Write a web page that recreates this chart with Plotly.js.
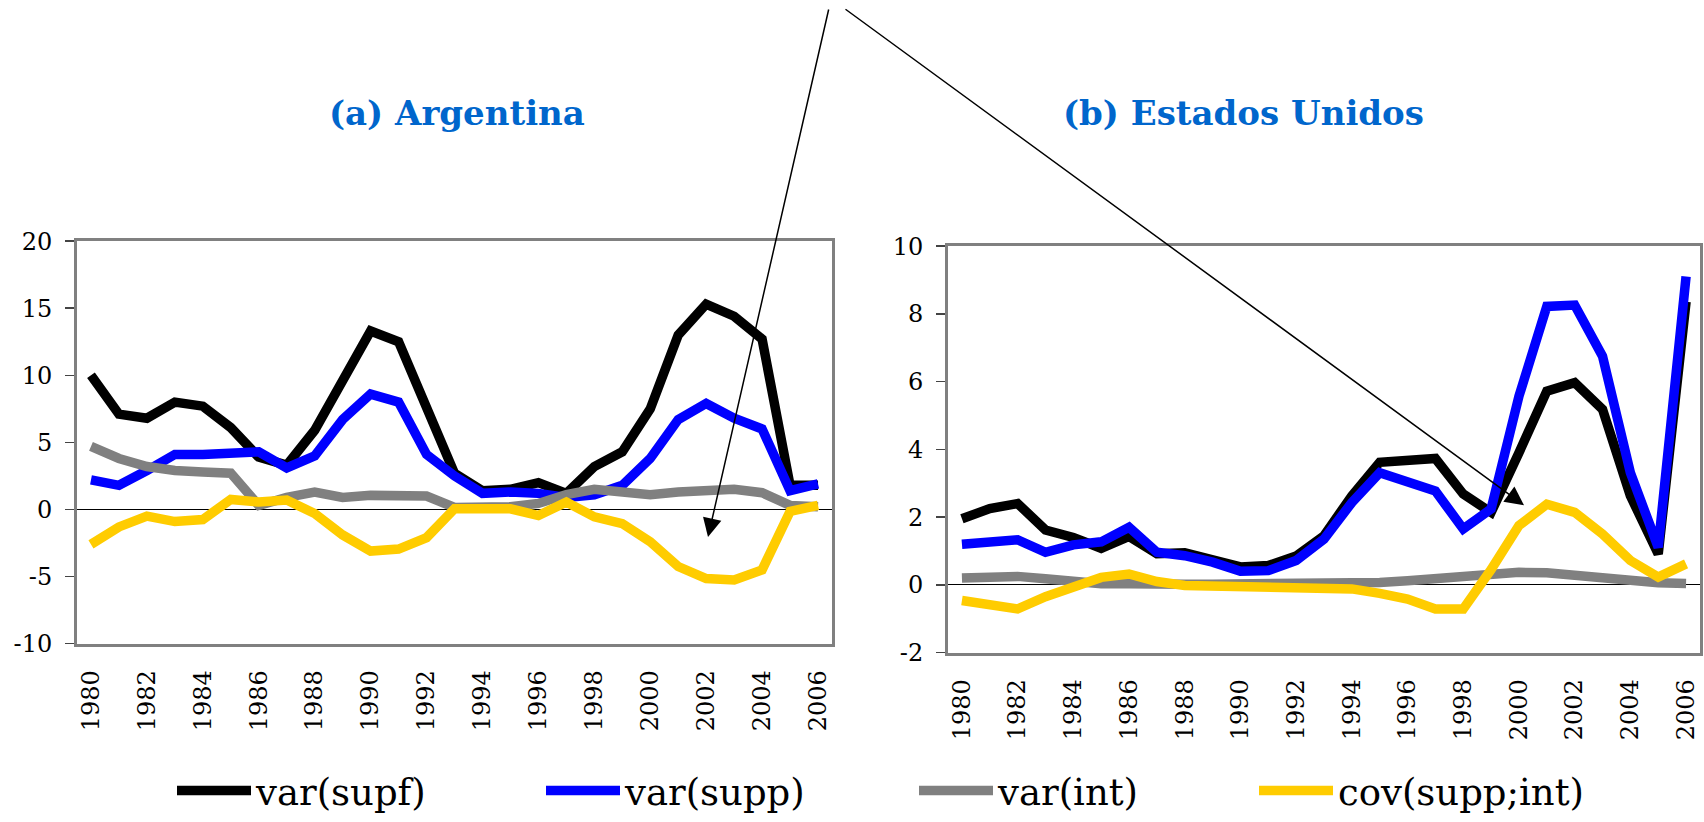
<!DOCTYPE html>
<html><head><meta charset="utf-8">
<script src="https://cdn.plot.ly/plotly-3.0.1.min.js"></script>
<style>html,body{margin:0;padding:0;background:#fff}#chart{width:1704px;height:822px}</style>
</head><body><div id="chart"></div>
<script>
const years = [1980,1981,1982,1983,1984,1985,1986,1987,1988,1989,1990,1991,1992,1993,1994,1995,1996,1997,1998,1999,2000,2001,2002,2003,2004,2005,2006];

const seriesNames = ['var(supf)', 'var(supp)', 'var(int)', 'cov(supp;int)'];
const seriesColors = ['#000000', '#0000FF', '#808080', '#FFCC00'];

// (a) Argentina
const argSupf = [10.0, 7.1, 6.8, 8.0, 7.7, 6.1, 3.9, 3.3, 5.9, 9.7, 13.3, 12.5, 7.6, 2.7, 1.4, 1.5, 2.0, 1.2, 3.2, 4.3, 7.5, 13.0, 15.3, 14.4, 12.7, 1.8, 1.8];
const argSupp = [2.2, 1.8, 2.9, 4.1, 4.1, 4.2, 4.3, 3.1, 4.0, 6.7, 8.6, 8.0, 4.1, 2.5, 1.2, 1.3, 1.2, 0.9, 1.1, 1.8, 3.8, 6.7, 7.9, 6.8, 6.0, 1.4, 1.9];
const argInt  = [4.7, 3.8, 3.2, 2.9, 2.8, 2.7, 0.3, 0.9, 1.3, 0.9, 1.05, 1.05, 1.0, 0.15, 0.2, 0.2, 0.45, 1.1, 1.5, 1.3, 1.1, 1.3, 1.4, 1.5, 1.25, 0.3, 0.2];
const argCov  = [-2.6, -1.3, -0.5, -0.9, -0.75, 0.75, 0.55, 0.7, -0.3, -1.9, -3.1, -2.95, -2.1, 0.05, 0.05, 0.05, -0.45, 0.55, -0.55, -1.05, -2.4, -4.25, -5.15, -5.25, -4.5, -0.15, 0.3];

// (b) Estados Unidos
const usSupf = [1.95, 2.25, 2.4, 1.62, 1.4, 1.08, 1.43, 0.92, 0.95, 0.77, 0.53, 0.57, 0.85, 1.45, 2.63, 3.62, 3.66, 3.73, 2.68, 2.14, 3.9, 5.72, 5.97, 5.18, 2.63, 0.91, 8.36];
const usSupp = [1.2, 1.27, 1.33, 0.96, 1.18, 1.27, 1.7, 0.96, 0.86, 0.67, 0.4, 0.42, 0.72, 1.35, 2.43, 3.31, 3.07, 2.77, 1.65, 2.24, 5.57, 8.22, 8.26, 6.75, 3.31, 1.11, 9.1];
const usInt  = [0.2, 0.25, 0.25, 0.18, 0.1, 0.03, 0.03, 0.0, 0.02, 0.02, 0.02, 0.02, 0.02, 0.03, 0.04, 0.07, 0.12, 0.18, 0.25, 0.32, 0.37, 0.36, 0.27, 0.19, 0.12, 0.06, 0.04];
const usCov  = [-0.46, -0.61, -0.71, -0.35, -0.05, 0.22, 0.32, 0.1, -0.02, -0.04, -0.05, -0.08, -0.05, -0.05, -0.12, -0.25, -0.42, -0.71, -0.71, 0.45, 1.75, 2.38, 2.14, 1.5, 0.72, 0.23, 0.62];

const panelTitles = ['(a) Argentina', '(b) Estados Unidos'];
const rangeA = [-10, 20], stepA = 5;
const rangeB = [-2, 10], stepB = 2;

const W = 1704, H = 822;
const FONT = 'DejaVu Serif, Liberation Serif, serif';
const legendIds = ['legend', 'legend2', 'legend3', 'legend4'];

const argSeries = [argSupf, argSupp, argInt, argCov];
const usSeries = [usSupf, usSupp, usInt, usCov];

const traces = [];
argSeries.forEach((ys, i) => traces.push({
  x: years, y: ys, xaxis: 'x', yaxis: 'y', mode: 'lines', type: 'scatter',
  name: seriesNames[i], legend: legendIds[i], showlegend: true,
  line: {color: seriesColors[i], width: 9.5}, hoverinfo: 'skip'
}));
usSeries.forEach((ys, i) => traces.push({
  x: years, y: ys, xaxis: 'x2', yaxis: 'y2', mode: 'lines', type: 'scatter',
  name: seriesNames[i], showlegend: false,
  line: {color: seriesColors[i], width: 9.5}, hoverinfo: 'skip'
}));

const pxX = p => p / W;
const pxY = p => 1 - p / H;
const domXA = [pxX(77), pxX(832)], domYA = [pxY(646), pxY(242)];
const domXB = [pxX(948), pxX(1700)], domYB = [pxY(655), pxY(247)];
const zeroPos = (dom, r) => dom[0] + (0 - r[0]) / (r[1] - r[0]) * (dom[1] - dom[0]);
const xRange = [years[0] - 0.5, years[years.length - 1] + 0.5];

const tickFont = {family: FONT, size: 24, color: '#000'};

function tickList(r, step) {
  const v = [];
  for (let t = r[0]; t <= r[1] + 1e-9; t += step) v.push(t);
  return v;
}

function mainX(dom, anchor) {
  return {domain: dom, anchor: anchor, range: xRange, showline: true, mirror: true,
    linecolor: '#808080', linewidth: 3, ticks: '', tickmode: 'linear', tick0: years[0], dtick: 2,
    tickangle: -90, tickfont: tickFont, showgrid: false, zeroline: false, ticklabelstandoff: 14, fixedrange: true};
}
function mainY(dom, anchor, r, step) {
  const vals = tickList(r, step);
  return {domain: dom, anchor: anchor, range: r, tickmode: 'array', tickvals: vals,
    ticktext: vals.map(v => String(v)),
    ticks: 'outside', ticklen: 9, tickwidth: 1.5, tickcolor: '#444',
    showline: true, mirror: true, linecolor: '#808080', linewidth: 3, showgrid: false,
    zeroline: true, zerolinecolor: '#000', zerolinewidth: 1.2,
    tickfont: tickFont, ticklabelstandoff: 8, fixedrange: true};
}
function zeroX(over, pos) {
  return {overlaying: over, anchor: 'free', position: pos, range: xRange, tickmode: 'linear',
    tick0: xRange[0], dtick: 1, ticks: 'outside', ticklen: 9, tickwidth: 1.2, tickcolor: '#000',
    showline: false, showticklabels: false, showgrid: false, zeroline: false, fixedrange: true};
}

const legendFont = {family: FONT, size: 37, color: '#000'};
const legendX = [172, 541, 914, 1254];
const legendY = pxY(794);
const legends = {};
legendIds.forEach((id, i) => {
  legends[id] = {x: pxX(legendX[i]), y: legendY, xanchor: 'left', yanchor: 'middle',
    orientation: 'h', font: legendFont, bgcolor: 'rgba(0,0,0,0)', borderwidth: 0, itemwidth: 74};
});

const titleFont = {family: FONT, size: 34, color: '#0066CC', weight: 'bold'};

const layout = Object.assign({
  width: W, height: H, margin: {l: 0, r: 0, t: 0, b: 0},
  paper_bgcolor: '#fff', plot_bgcolor: '#fff', font: {family: FONT, color: '#000'},
  xaxis: mainX(domXA, 'y'),
  yaxis: mainY(domYA, 'x', rangeA, stepA),
  xaxis2: mainX(domXB, 'y2'),
  yaxis2: mainY(domYB, 'x2', rangeB, stepB),
  xaxis3: zeroX('x', zeroPos(domYA, rangeA)),
  xaxis4: zeroX('x2', zeroPos(domYB, rangeB)),
  annotations: [
    {xref: 'paper', yref: 'paper', x: pxX(457), y: pxY(113), text: '<b>' + panelTitles[0] + '</b>', showarrow: false, font: titleFont, xanchor: 'center', yanchor: 'middle'},
    {xref: 'paper', yref: 'paper', x: pxX(1243), y: pxY(113), text: '<b>' + panelTitles[1] + '</b>', showarrow: false, font: titleFont, xanchor: 'center', yanchor: 'middle'},
    {xref: 'paper', yref: 'paper', x: pxX(708), y: pxY(539), text: '', showarrow: true, ax: 829 - 708, ay: 10 - 539,
     arrowhead: 2, arrowsize: 2.5, arrowwidth: 1.5, arrowcolor: '#000', standoff: 0, startstandoff: 0},
    {xref: 'paper', yref: 'paper', x: pxX(1524), y: pxY(507), text: '', showarrow: true, ax: 844 - 1524, ay: 10 - 507,
     arrowhead: 2, arrowsize: 2.5, arrowwidth: 1.5, arrowcolor: '#000', standoff: 0, startstandoff: 0}
  ]
}, legends);

Plotly.newPlot('chart', traces, layout, {staticPlot: true, displayModeBar: false});
</script>
</body></html>
